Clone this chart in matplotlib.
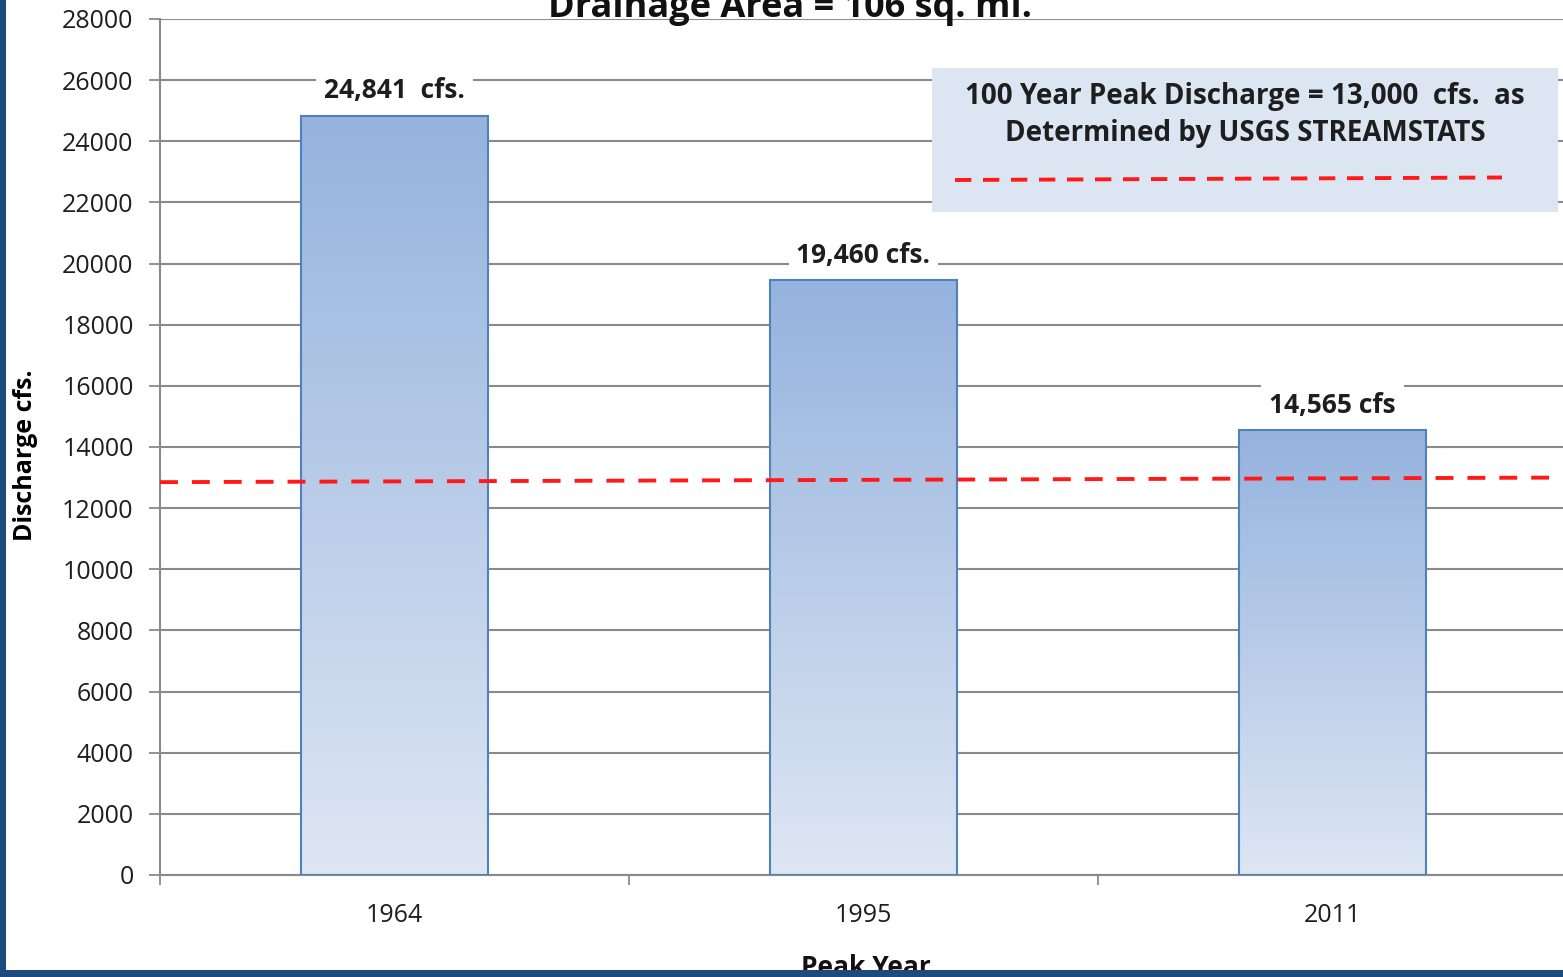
import matplotlib
matplotlib.use("Agg")
import matplotlib.pyplot as plt
import numpy as np
from matplotlib.patches import Rectangle
from matplotlib.colors import LinearSegmentedColormap

years = ["1964", "1995", "2011"]
discharge = [24841, 19460, 14565]
value_labels = ["24,841  cfs.", "19,460 cfs.", "14,565 cfs"]
peak100_ends = [12850, 13000]
yticks = list(range(0, 28001, 2000))
title = "Drainage Area = 106 sq. mi."
legend_text = "100 Year Peak Discharge = 13,000  cfs.  as\nDetermined by USGS STREAMSTATS"

plt.rcParams['font.family'] = ['Open Sans', 'DejaVu Sans']

W, H = 1563, 977
fig = plt.figure(figsize=(W / 100, H / 100), dpi=100)
fig.patch.set_facecolor('white')

ax_left, ax_right, ax_top, ax_bot = 160, 1567, 19, 875
ax = fig.add_axes([ax_left / W, 1 - ax_bot / H, (ax_right - ax_left) / W, (ax_bot - ax_top) / H])

x = np.arange(len(years))
grid_c = '#8a8a8a'
txt_c = '#1e1e1e'
ax.set_yticks(yticks)
ax.set_yticklabels([str(v) for v in yticks], fontsize=18, color=txt_c)
ax.yaxis.grid(True, color=grid_c, linewidth=1.5, zorder=0)
ax.set_axisbelow(True)
ax.set_xticks([-0.5, 0.5, 1.5, 2.5])
ax.set_xticklabels([])
ax.set_xticks(x, minor=True)
ax.set_xticklabels(years, minor=True, fontsize=18, color=txt_c)
ax.tick_params(axis='x', which='minor', length=0, pad=20)
ax.tick_params(axis='x', which='major', length=7, width=1.3, color=grid_c)
ax.tick_params(axis='y', length=8, width=1.3, color=grid_c, pad=11)
for s in ['top', 'right']:
    ax.spines[s].set_visible(False)
for s in ['left', 'bottom']:
    ax.spines[s].set_color(grid_c)
    ax.spines[s].set_linewidth(1.5)

# gradient bars
grad = np.linspace(0, 1, 256).reshape(-1, 1)
cmap = LinearSegmentedColormap.from_list('g', ['#dee6f3', '#95b3de'])
bars = ax.bar(x, discharge, width=0.4, facecolor='none', edgecolor='#4f81bd', linewidth=1.5, zorder=3)
for b in bars:
    bx, by = b.get_x(), b.get_y()
    bw, bh = b.get_width(), b.get_height()
    im = ax.imshow(grad, cmap=cmap, aspect='auto', origin='lower',
                   extent=[bx, bx + bw, by, by + bh], zorder=2)
    im.set_clip_path(b)
ax.set_xlim(-0.5, 2.5)
ax.set_ylim(0, 28000)

for xi, v, lab in zip(x, discharge, value_labels):
    ax.annotate(lab, (xi, v), xytext=(0, 8), textcoords='offset points',
                ha='center', va='bottom', fontsize=19, fontweight='bold', color=txt_c,
                bbox=dict(boxstyle='square,pad=0.3', fc='white', ec='none'), zorder=5)

ax.plot([-0.5, 2.5], peak100_ends, color='#ff1a1a', linewidth=2.8,
        dashes=(4.6, 3.6), zorder=4, clip_on=False)

ax.set_ylabel("Discharge cfs.", fontsize=18, fontweight='bold')
ax.yaxis.set_label_coords((38 - ax_left) / (ax_right - ax_left), 0.49)

# legend box
fig.patches.append(Rectangle((932 / W, 1 - 212 / H), (1558 - 932) / W, (212 - 68) / H,
                             transform=fig.transFigure, facecolor='#dce6f2', edgecolor='none', zorder=6))
fig.text(1245 / W, 1 - 115 / H, legend_text, ha='center', va='center', fontsize=20,
         fontweight='bold', color=txt_c, linespacing=1.4, zorder=7)
fig.lines.append(plt.Line2D([955 / W, 1502 / W], [1 - 180 / H, 1 - 177.5 / H], transform=fig.transFigure,
                            color='#ff1a1a', linewidth=2.8, dashes=(4.2, 3.0), zorder=7))

fig.text(790 / W, 1 - 17 / H, title, ha='center', va='baseline', fontsize=26, fontweight='bold', color='#111111')
fig.text(866 / W, 1 - 954 / H, "Peak Year", ha='center', va='top', fontsize=19, fontweight='bold', color='#111111')

# dark blue frame
fig.patches.append(Rectangle((0, 0), 6 / W, 1, transform=fig.transFigure, facecolor='#1f4a7d', edgecolor='none', zorder=10))
fig.patches.append(Rectangle((0, 0), 1, 7 / H, transform=fig.transFigure, facecolor='#1f4a7d', edgecolor='none', zorder=10))

fig.savefig("out.png", dpi=100)
